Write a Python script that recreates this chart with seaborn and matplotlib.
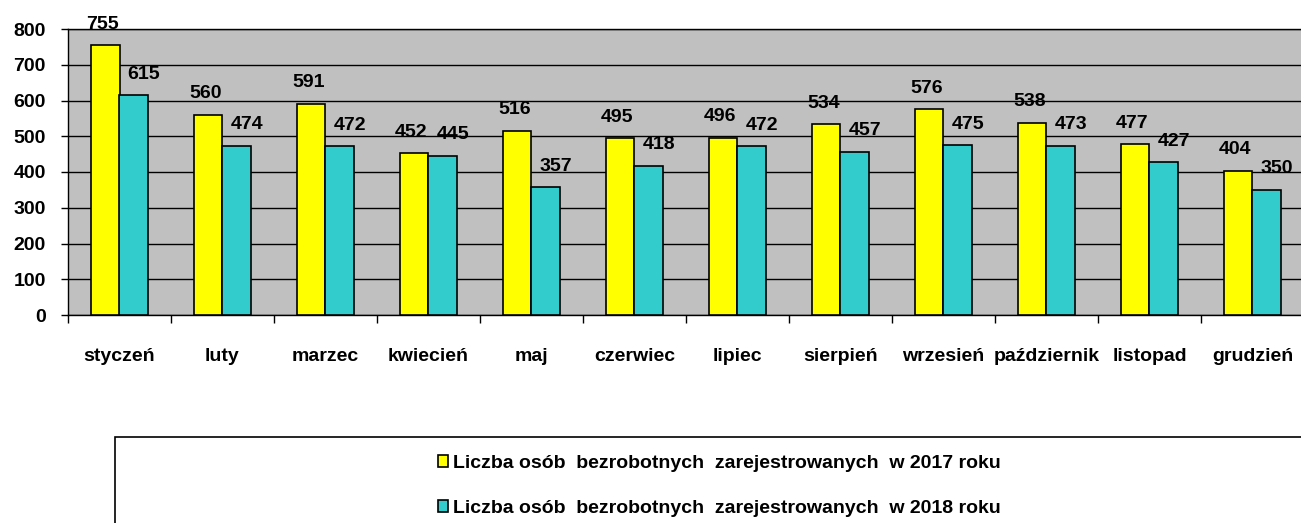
import pandas as pd
import matplotlib
matplotlib.use("Agg")
import matplotlib.pyplot as plt
from matplotlib.patches import Rectangle
import seaborn as sns

# dane z wykresu
miesiace = ["styczeń", "luty", "marzec", "kwiecień", "maj", "czerwiec",
            "lipiec", "sierpień", "wrzesień", "październik", "listopad", "grudzień"]
bezrobotni_2017 = [755, 560, 591, 452, 516, 495, 496, 534, 576, 538, 477, 404]
bezrobotni_2018 = [615, 474, 472, 445, 357, 418, 472, 457, 475, 473, 427, 350]
serie = ["Liczba osób  bezrobotnych  zarejestrowanych  w 2017 roku",
         "Liczba osób  bezrobotnych  zarejestrowanych  w 2018 roku"]
kolory = ["#FFFF00", "#33CCCC"]

df = pd.DataFrame({
    "miesiac": miesiace * 2,
    "liczba": bezrobotni_2017 + bezrobotni_2018,
    "seria": [serie[0]] * 12 + [serie[1]] * 12,
})

sns.set_style("white")
plt.rcParams["font.family"] = ["Liberation Sans", "DejaVu Sans"]
plt.rcParams["font.weight"] = "bold"
plt.rcParams["text.color"] = "black"
plt.rcParams["xtick.color"] = "black"
plt.rcParams["ytick.color"] = "black"

FS = 14

fig = plt.figure(figsize=(13.01, 5.23), dpi=100)
ax = fig.add_axes([68 / 1301, 1 - 315 / 523, 1236 / 1301, 286 / 523])
ax.set_facecolor("#C0C0C0")

sns.barplot(data=df, x="miesiac", y="liczba", hue="seria", palette=kolory,
            width=0.56, edgecolor="black", linewidth=1.2, saturation=1,
            ax=ax, zorder=3)

# etykiety wartosci
for i, cont in enumerate(ax.containers):
    dx = -2 if i == 0 else 7
    for bar in cont:
        h = bar.get_height()
        ax.annotate(f"{h:.0f}", (bar.get_x() + bar.get_width() / 2, h),
                    xytext=(dx, 9), textcoords="offset points",
                    ha="center", va="bottom", fontsize=FS, fontweight="bold",
                    color="black", annotation_clip=False)

ax.set_ylim(0, 800)
ax.set_xlim(-0.5, 11.5)
ax.set_yticks(range(0, 801, 100))
ax.yaxis.grid(True, color="black", linewidth=1, zorder=0)
ax.set_axisbelow(True)
ax.set_xlabel("")
ax.set_ylabel("")

ax.tick_params(axis="y", length=5, width=1, color="black", pad=11,
               labelsize=FS, left=True, labelcolor="black")
ax.set_xticks([i - 0.5 for i in range(13)], minor=True)
ax.tick_params(axis="x", which="minor", length=6, width=1, color="black", bottom=True)
ax.tick_params(axis="x", which="major", length=0, pad=24, labelsize=FS,
               labelcolor="black")
for lab in ax.get_xticklabels() + ax.get_yticklabels():
    lab.set_fontweight("bold")

for s in ["left", "top", "bottom"]:
    ax.spines[s].set_color("black")
    ax.spines[s].set_linewidth(1)
ax.spines["right"].set_visible(False)

# legenda w ramce
handles, labels = ax.get_legend_handles_labels()
ax.get_legend().remove()
fig.patches.append(Rectangle((115 / 1301, -0.1), 1.0, 1 - 437 / 523 + 0.1,
                             transform=fig.transFigure, fill=False,
                             edgecolor="black", linewidth=1.2))
leg = fig.legend(handles, labels, loc="center left",
                 bbox_to_anchor=(420 / 1301, 1 - 486 / 523), frameon=False,
                 handlelength=0.55, handleheight=0.55, handletextpad=0.25,
                 labelspacing=1.45, prop={"size": FS, "weight": "bold"})
for t in leg.get_texts():
    t.set_color("black")

fig.savefig("out.png", dpi=100)
